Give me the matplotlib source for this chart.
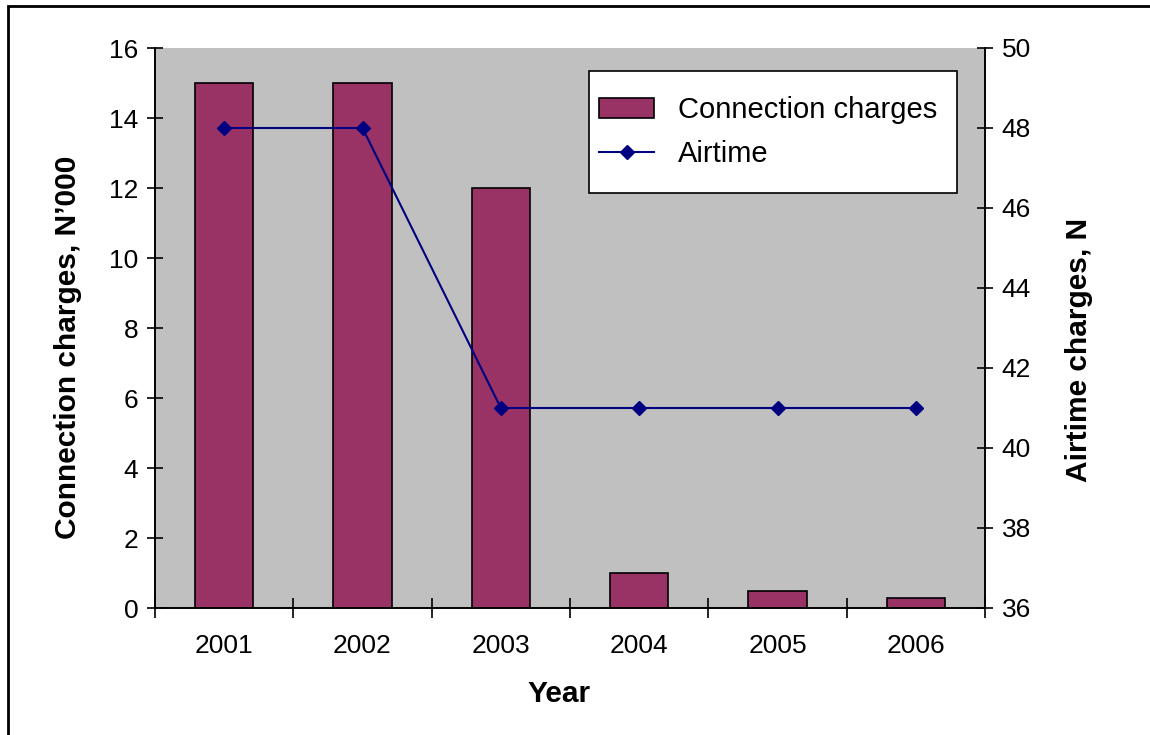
import numpy as np
import matplotlib
matplotlib.use('Agg')
import matplotlib.pyplot as plt
from matplotlib.patches import Rectangle

years = ['2001', '2002', '2003', '2004', '2005', '2006']
connection = [15, 15, 12, 1, 0.5, 0.3]
airtime = [48, 48, 41, 41, 41, 41]

plt.rcParams['font.family'] = ['Liberation Sans', 'DejaVu Sans']

W, H = 1150, 735
L, R, T, B = 155, 985, 48, 608   # plot area in pixels
def ax_x(px):
    return (px - L) / (R - L)
def ax_y(py):
    return (B - py) / (B - T)

fig = plt.figure(figsize=(W/100, H/100), dpi=100)
ax = fig.add_axes([L/W, 1-B/H, (R-L)/W, (B-T)/H])
ax.set_facecolor('#C0C0C0')

x = np.arange(len(years))
bars = ax.bar(x, connection, width=0.42, color='#993366', edgecolor='black',
              linewidth=1.2, label='Connection charges', zorder=2)
ax.set_xlim(-0.5, len(years)-0.5)
ax.set_ylim(0, 16)
ax.set_yticks(range(0, 17, 2))
ax.set_xticks(np.arange(-0.5, len(years), 1))
ax.set_xticklabels([])
ax.set_xticks(x, minor=True)
ax.set_xticklabels(years, minor=True)
ax.tick_params(axis='x', which='major', direction='inout', length=14, width=1.2)
ax.tick_params(axis='x', which='minor', length=0, pad=19, labelsize=19)
ax.tick_params(axis='y', direction='inout', length=12, width=1.2, labelsize=19, pad=6)
for s in ax.spines.values():
    s.set_linewidth(1.2)
ax.spines['top'].set_visible(False)
ax.set_xlabel('Year', fontsize=21.5, fontweight='bold')
ax.xaxis.set_label_coords(ax_x(559), ax_y(680))
ax.set_ylabel('Connection charges, N\u2019000', fontsize=21.5, fontweight='bold')
ax.yaxis.set_label_coords(ax_x(82), ax_y(347))

ax2 = ax.twinx()
line, = ax2.plot(x, airtime, color='#000080', marker='D', markersize=7.5,
                 linewidth=1.5, label='Airtime', zorder=3)
ax2.set_ylim(36, 50)
ax2.set_yticks(range(36, 51, 2))
ax2.tick_params(axis='y', direction='inout', length=12, width=1.2, labelsize=19, pad=6)
ax2.spines['top'].set_visible(False)
for s in ax2.spines.values():
    s.set_linewidth(1.2)
ax2.set_ylabel('Airtime charges, N', fontsize=21.5, fontweight='bold')
ax2.yaxis.set_label_coords(ax_x(1065), ax_y(350))

# legend box drawn by hand so the padding can differ per side
box = Rectangle((ax_x(589), ax_y(193)), ax_x(957) - ax_x(589), ax_y(71) - ax_y(193),
                transform=ax2.transAxes, facecolor='white', edgecolor='black',
                linewidth=1.2, zorder=4)
ax2.add_patch(box)
leg = ax2.legend([bars, line], ['Connection charges', 'Airtime'],
                 loc='upper left', bbox_to_anchor=(ax_x(599), ax_y(96)),
                 borderaxespad=0, borderpad=0, fontsize=21, frameon=False,
                 handlelength=1.9, handletextpad=0.8, labelspacing=0.55)
leg.set_zorder(5)

# outer frame of the chart area
fig.patches.append(Rectangle((8/W, -0.1), 1.2, 1-6/H+0.1,
                             transform=fig.transFigure, fill=False,
                             edgecolor='black', linewidth=2))

fig.savefig('out.png', dpi=100)
